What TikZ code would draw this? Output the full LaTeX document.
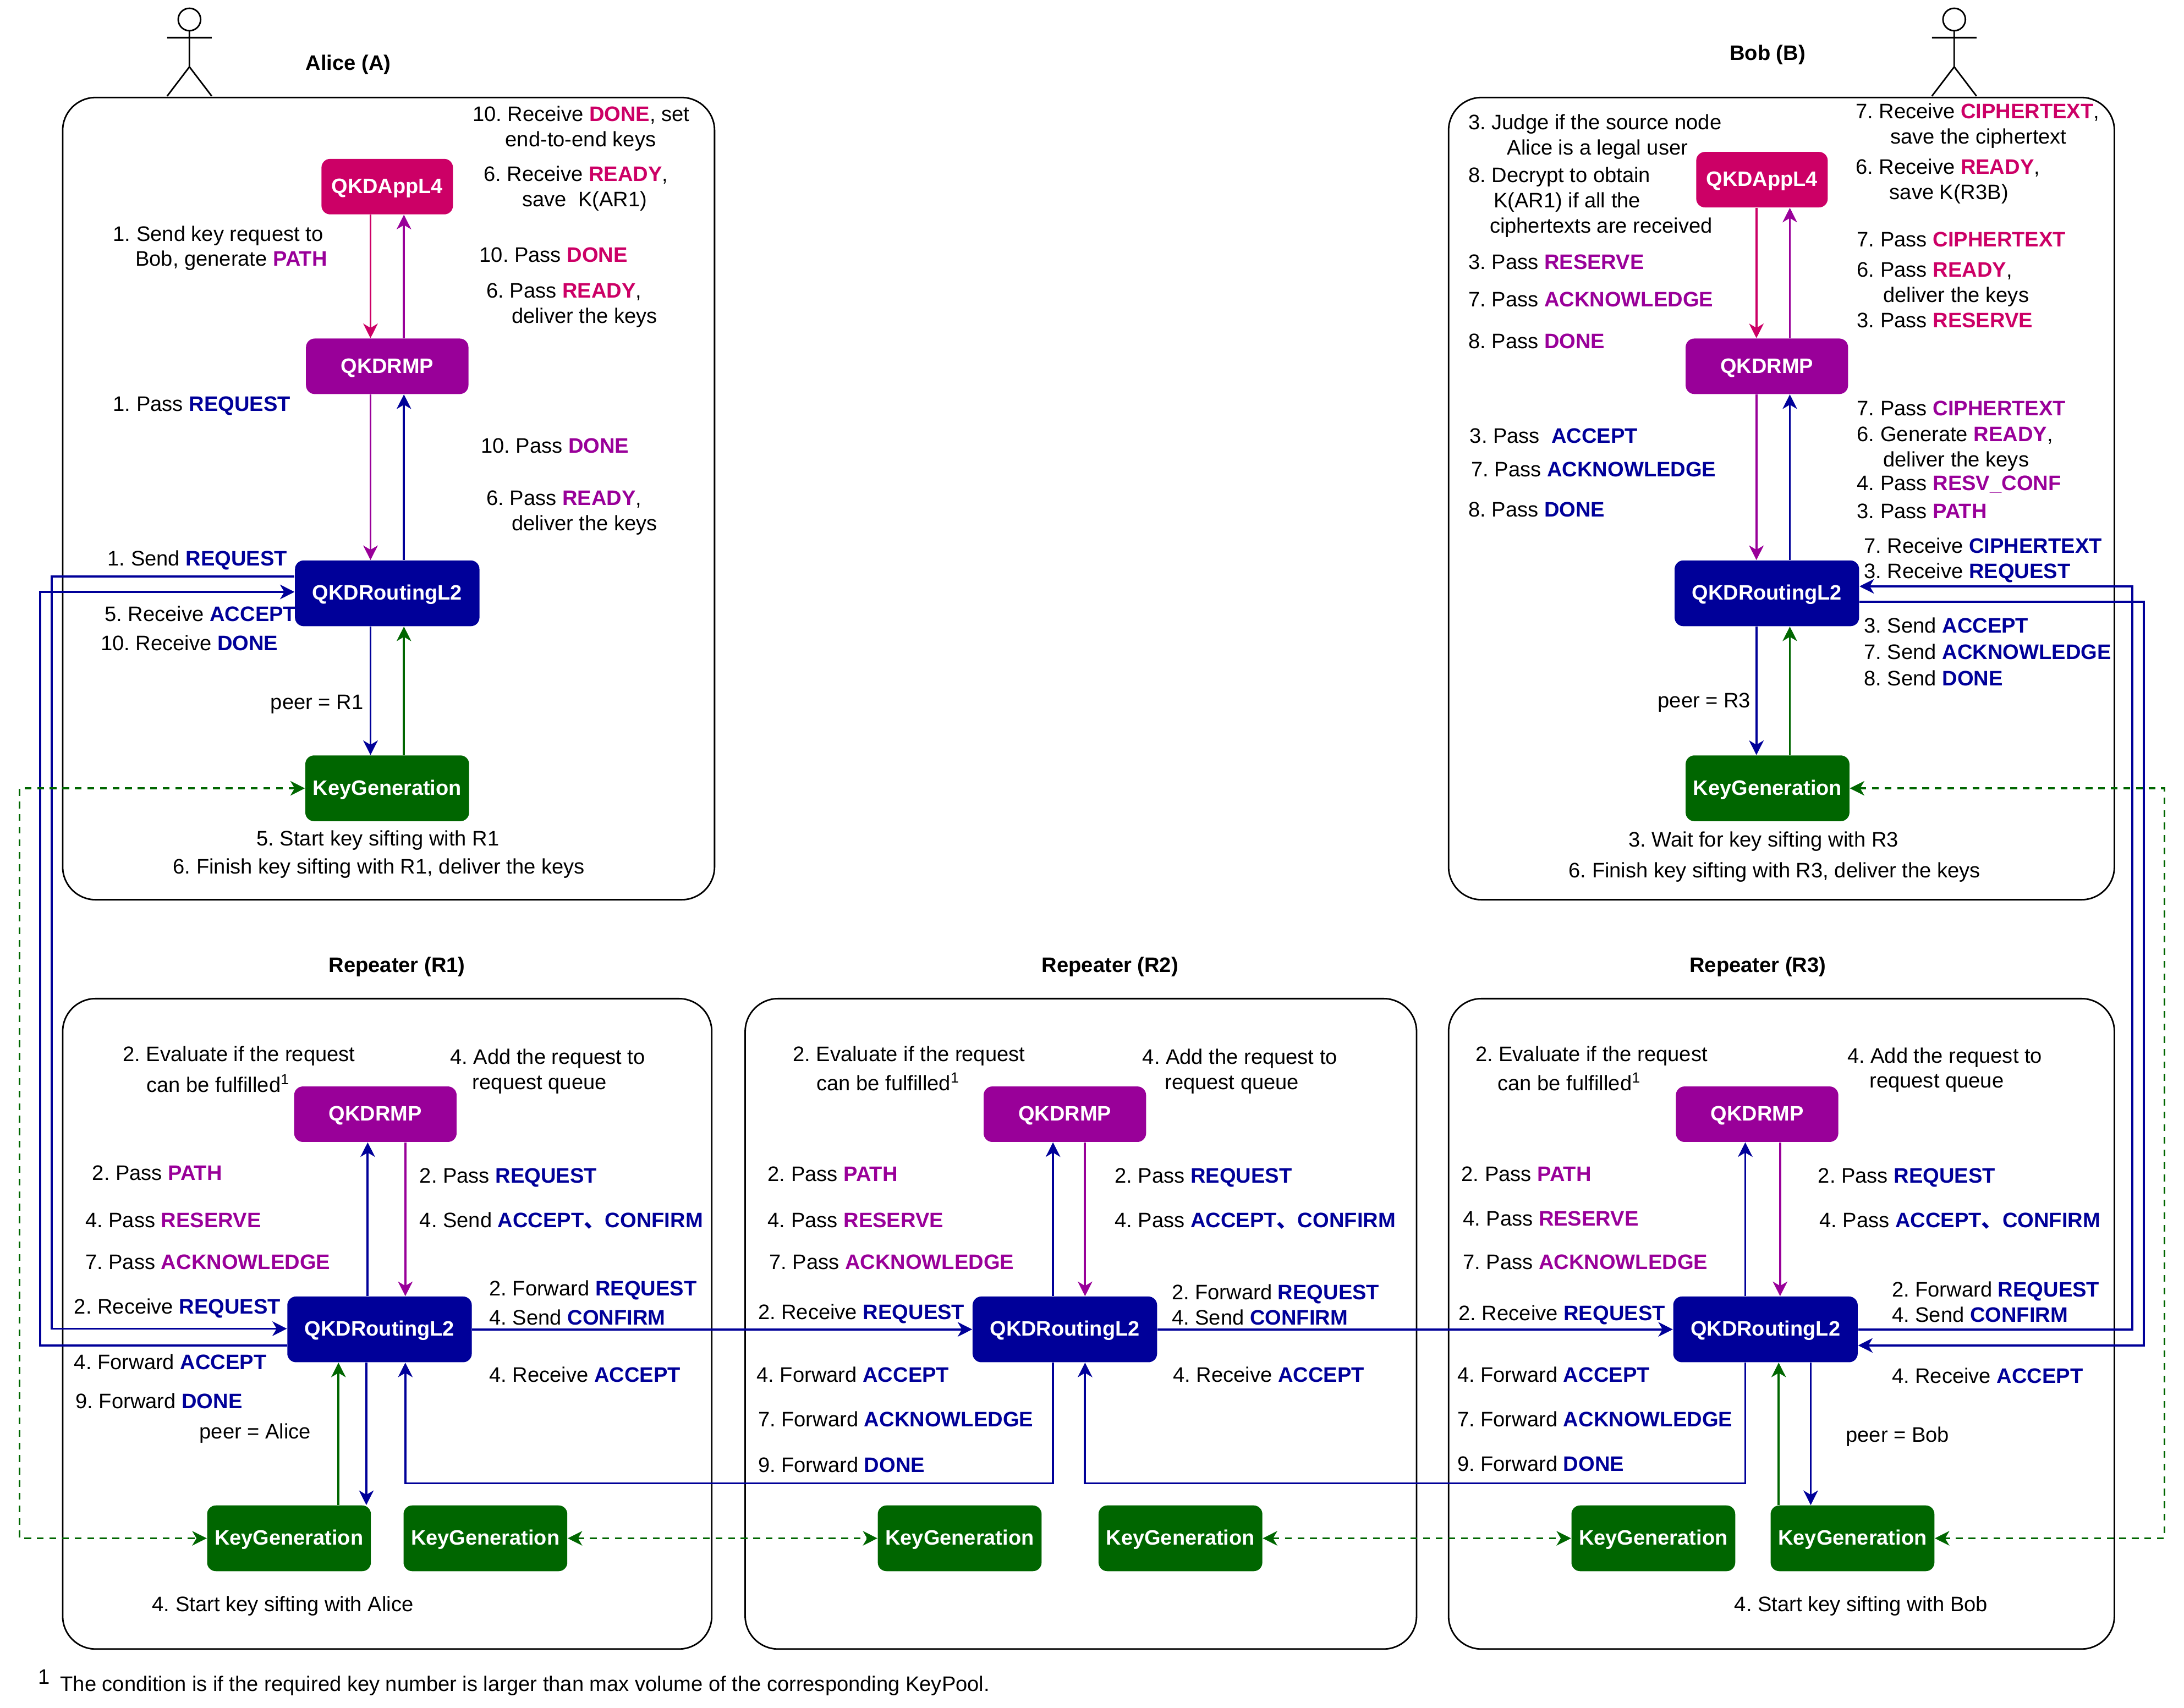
\documentclass[tikz,border=0pt]{standalone}
\usepackage{fontspec}
\setmainfont{Liberation Sans}
\newfontfamily\cjk{Noto Sans CJK SC}
\usetikzlibrary{arrows.meta}
\definecolor{qkdPink}{HTML}{CC0066}
\definecolor{qkdPurple}{HTML}{990099}
\definecolor{qkdBlue}{HTML}{000099}
\definecolor{qkdGreen}{HTML}{006600}
\newcommand{\tPink}[1]{\textcolor{qkdPink}{\textbf{#1}}}
\newcommand{\tPurple}[1]{\textcolor{qkdPurple}{\textbf{#1}}}
\newcommand{\tBlue}[1]{\textcolor{qkdBlue}{\textbf{#1}}}
\newcommand{\cjkComma}{{\cjk\bfseries 、}}
\tikzset{
	zone/.style={draw, line width=0.8pt, rounded corners=17pt},
	actor/.style={draw, line width=0.8pt},
	note/.style={anchor=west, inner sep=0pt, align=left, yshift=-1pt, font=\fontsize{10.85}{13}\selectfont\frenchspacing, execute at begin node={\rule[-2.5pt]{0pt}{10.5pt}}},
	title/.style={inner sep=0pt, yshift=-1pt, font=\bfseries\fontsize{10.85}{13}\selectfont, execute at begin node={\rule[-2.5pt]{0pt}{10.5pt}}},
	block/.style={rounded corners=4.5pt, text=white, inner sep=0pt, font=\bfseries\fontsize{10.8}{13}\selectfont, execute at begin node={\rule{0pt}{9.2pt}}},
	appbox/.style={block, fill=qkdPink, minimum width=68pt, minimum height=28.7pt},
	rmpbox/.style={block, fill=qkdPurple, minimum width=84pt, minimum height=28.7pt},
	routbox/.style={block, fill=qkdBlue, minimum width=95.4pt, minimum height=34pt},
	keybox/.style={block, fill=qkdGreen, minimum width=84.7pt, minimum height=34pt},
	link/.style={line width=1.1pt, -{Stealth[length=7.5pt,width=7.5pt,inset=2.2pt]}},
	keylink/.style={draw=qkdGreen, line width=1pt, dash pattern=on 3.5pt off 3pt, {Stealth[length=7.5pt,width=7.5pt,inset=2.2pt]}-{Stealth[length=7.5pt,width=7.5pt,inset=2.2pt]}}
}
\begin{document}
\begin{tikzpicture}[x=0.02532cm,y=-0.02532cm]
	\useasboundingbox (0,0) rectangle (1568,1226);
%	actors
	\draw[actor] (136,14) circle [radius=5.8pt];
	\draw[actor] (136,22) -- (136,48) (120,27) -- (152,27) (120,69) -- (136,48) -- (152,69);
	\draw[actor] (1403,14) circle [radius=5.8pt];
	\draw[actor] (1403,22) -- (1403,48) (1387,27) -- (1419,27) (1387,69) -- (1403,48) -- (1419,69);
%	zones
	\draw[zone] (45,70) rectangle (513,646);
	\draw[zone] (1040,70) rectangle (1518,646);
	\draw[zone] (45,717) rectangle (511,1184);
	\draw[zone] (535,717) rectangle (1017,1184);
	\draw[zone] (1040,717) rectangle (1518,1184);
	\node[title] (aTitle) at (250,45) {Alice (A)};
	\node[title] (bTitle) at (1269,38) {Bob (B)};
	\node[title] (r1Title) at (285,693) {Repeater (R1)};
	\node[title] (r2Title) at (797,693) {Repeater (R2)};
	\node[title] (r3Title) at (1262,693) {Repeater (R3)};
%	blocks
	\node[appbox] (aApp) at (278,134) {QKDAppL4};
	\node[rmpbox] (aRmp) at (278,263) {QKDRMP};
	\node[routbox] (aRout) at (278,426) {QKDRoutingL2};
	\node[keybox] (aKey) at (278,566) {KeyGeneration};
	\node[appbox] (bApp) at (1265,129) {QKDAppL4};
	\node[rmpbox] (bRmp) at (1268.5,263) {QKDRMP};
	\node[routbox] (bRout) at (1268.5,426) {QKDRoutingL2};
	\node[keybox] (bKey) at (1269,566) {KeyGeneration};
	\node[rmpbox] (r1Rmp) at (269.5,800) {QKDRMP};
	\node[routbox] (r1Rout) at (272.5,954.5) {QKDRoutingL2};
	\node[keybox] (r1KeyA) at (207.5,1104.5) {KeyGeneration};
	\node[keybox] (r1KeyB) at (348.5,1104.5) {KeyGeneration};
	\node[rmpbox] (r2Rmp) at (764.5,800) {QKDRMP};
	\node[routbox] (r2Rout) at (764.5,954.5) {QKDRoutingL2};
	\node[keybox] (r2KeyA) at (689,1104.5) {KeyGeneration};
	\node[keybox] (r2KeyB) at (847.5,1104.5) {KeyGeneration};
	\node[rmpbox] (r3Rmp) at (1261.5,800) {QKDRMP};
	\node[routbox] (r3Rout) at (1267.5,954.5) {QKDRoutingL2};
	\node[keybox] (r3KeyA) at (1187,1104.5) {KeyGeneration};
	\node[keybox] (r3KeyB) at (1330,1104.5) {KeyGeneration};
%	columns and bends of the connectors
	\coordinate (aDown) at (266,0);
	\coordinate (aUp) at (290,0);
	\coordinate (bDown) at (1261,0);
	\coordinate (bUp) at (1285,0);
	\coordinate (aOut) at (37,414);
	\coordinate (r1Back) at (29,966);
	\coordinate (aBack) at (29,425);
	\coordinate (r1In) at (37,954);
	\coordinate (bIn) at (1531,421);
	\coordinate (bOut) at (1539,432);
	\coordinate (r3Back) at (1539,966);
	\coordinate (r2Drop) at (756,1065);
	\coordinate (r1Ret) at (291,1065);
	\coordinate (r3Drop) at (1253,1065);
	\coordinate (r2Ret) at (779,1065);
	\coordinate (aKeyL) at (14,566);
	\coordinate (r1KeyL) at (14,1104.5);
	\coordinate (bKeyR) at (1554,566);
	\coordinate (r3KeyR) at (1554,1104.5);
%	inside Alice
	\draw[link, qkdPink] (aApp.south -| aDown) -- (aRmp.north -| aDown);
	\draw[link, qkdPurple] (aRmp.north -| aUp) -- (aApp.south -| aUp);
	\draw[link, qkdPurple] (aRmp.south -| aDown) -- (aRout.north -| aDown);
	\draw[link, qkdBlue] (aRout.north -| aUp) -- (aRmp.south -| aUp);
	\draw[link, qkdBlue] (aRout.south -| aDown) -- (aKey.north -| aDown);
	\draw[link, qkdGreen] (aKey.north -| aUp) -- (aRout.south -| aUp);
%	inside Bob
	\draw[link, qkdPink] (bApp.south -| bDown) -- (bRmp.north -| bDown);
	\draw[link, qkdPurple] (bRmp.north -| bUp) -- (bApp.south -| bUp);
	\draw[link, qkdPurple] (bRmp.south -| bDown) -- (bRout.north -| bDown);
	\draw[link, qkdBlue] (bRout.north -| bUp) -- (bRmp.south -| bUp);
	\draw[link, qkdBlue] (bRout.south -| bDown) -- (bKey.north -| bDown);
	\draw[link, qkdGreen] (bKey.north -| bUp) -- (bRout.south -| bUp);
%	inside the repeaters
	\draw[link, qkdBlue] (r1Rout.north -| 264,0) -- (r1Rmp.south -| 264,0);
	\draw[link, qkdPurple] (r1Rmp.south -| 291,0) -- (r1Rout.north -| 291,0);
	\draw[link, qkdGreen] (r1KeyA.north -| 243,0) -- (r1Rout.south -| 243,0);
	\draw[link, qkdBlue] (r1Rout.south -| 263,0) -- (r1KeyA.north -| 263,0);
	\draw[link, qkdBlue] (r2Rout.north -| 756,0) -- (r2Rmp.south -| 756,0);
	\draw[link, qkdPurple] (r2Rmp.south -| 779,0) -- (r2Rout.north -| 779,0);
	\draw[link, qkdBlue] (r3Rout.north -| 1253,0) -- (r3Rmp.south -| 1253,0);
	\draw[link, qkdPurple] (r3Rmp.south -| 1278,0) -- (r3Rout.north -| 1278,0);
	\draw[link, qkdGreen] (r3KeyB.north -| 1277,0) -- (r3Rout.south -| 1277,0);
	\draw[link, qkdBlue] (r3Rout.south -| 1300,0) -- (r3KeyB.north -| 1300,0);
%	between the nodes
	\draw[link, qkdBlue] (aRout.west |- aOut) -- (aOut) -- (r1In) -- (r1Rout.west |- r1In);
	\draw[link, qkdBlue] (r1Rout.west |- r1Back) -- (r1Back) -- (aBack) -- (aRout.west |- aBack);
	\draw[link, qkdBlue] (r1Rout.east) -- (r2Rout.west);
	\draw[link, qkdBlue] (r2Rout.east) -- (r3Rout.west);
	\draw[link, qkdBlue] (r3Rout.east) -| (bIn) -- (bRout.east |- bIn);
	\draw[link, qkdBlue] (bRout.east |- bOut) -- (bOut) -- (r3Back) -- (r3Rout.east |- r3Back);
	\draw[link, qkdBlue] (r2Rout.south -| r2Drop) -- (r2Drop) -- (r1Ret) -- (r1Rout.south -| r1Ret);
	\draw[link, qkdBlue] (r3Rout.south -| r3Drop) -- (r3Drop) -- (r2Ret) -- (r2Rout.south -| r2Ret);
	\draw[keylink] (aKey.west) -- (aKeyL) -- (r1KeyL) -- (r1KeyA.west);
	\draw[keylink] (r1KeyB.east) -- (r2KeyA.west);
	\draw[keylink] (r2KeyB.east) -- (r3KeyA.west);
	\draw[keylink] (bKey.east) -- (bKeyR) -- (r3KeyR) -- (r3KeyB.east);
%	notes of Alice
	\node[note] (a1) at (339,91) {10. Receive \tPink{DONE}, set\\\hspace*{17pt}end-to-end keys};
	\node[note] (a2) at (347,134) {6. Receive \tPink{READY},\\\hspace*{20pt}save\ \ K(AR1)};
	\node[note] (a3) at (81,177) {1. Send key request to\\\hspace*{11.5pt}Bob, generate \tPurple{PATH}};
	\node[note] (a4) at (344,183) {10. Pass \tPink{DONE}};
	\node[note] (a5) at (349,218) {6. Pass \tPink{READY},\\\hspace*{13pt}deliver the keys};
	\node[note] (a6) at (81,290) {1. Pass \tBlue{REQUEST}};
	\node[note] (a7) at (345,320) {10. Pass \tPurple{DONE}};
	\node[note] (a8) at (349,367) {6. Pass \tPurple{READY},\\\hspace*{13pt}deliver the keys};
	\node[note] (a9) at (77,401) {1. Send \tBlue{REQUEST}};
	\node[note] (a10) at (75,441) {5. Receive \tBlue{ACCEPT}};
	\node[note] (a11) at (72,462) {10. Receive \tBlue{DONE}};
	\node[note] (a12) at (194,504) {peer = R1};
	\node[note] (a13) at (184,602) {5. Start key sifting with R1};
	\node[note] (a14) at (124,622) {6. Finish key sifting with R1, deliver the keys};
%	notes of Bob
	\node[note] (b1) at (1054,97) {3. Judge if the source node\\\hspace*{20pt}Alice is a legal user};
	\node[note] (b2) at (1054,144) {8. Decrypt to obtain\\\hspace*{13pt}K(AR1) if all the\\\hspace*{11pt}ciphertexts are received};
	\node[note] (b3) at (1054,188) {3. Pass \tPurple{RESERVE}};
	\node[note] (b4) at (1054,215) {7. Pass \tPurple{ACKNOWLEDGE}};
	\node[note] (b5) at (1054,245) {8. Pass \tPurple{DONE}};
	\node[note] (b6) at (1332,89) {7. Receive \tPink{CIPHERTEXT},\\\hspace*{18pt}save the ciphertext};
	\node[note] (b7) at (1332,129) {6. Receive \tPink{READY},\\\hspace*{17.5pt}save K(R3B)};
	\node[note] (b8) at (1333,172) {7. Pass \tPink{CIPHERTEXT}};
	\node[note] (b9) at (1333,203) {6. Pass \tPink{READY},\\\hspace*{13.5pt}deliver the keys};
	\node[note] (b10) at (1333,230) {3. Pass \tPink{RESERVE}};
	\node[note] (b11) at (1055,313) {3. Pass\ \ \tBlue{ACCEPT}};
	\node[note] (b12) at (1056,337) {7. Pass \tBlue{ACKNOWLEDGE}};
	\node[note] (b13) at (1054,366) {8. Pass \tBlue{DONE}};
	\node[note] (b14) at (1333,293) {7. Pass \tPurple{CIPHERTEXT}};
	\node[note] (b15) at (1333,321) {6. Generate \tPurple{READY},\\\hspace*{13.5pt}deliver the keys};
	\node[note] (b16) at (1333,347) {4. Pass \tPurple{RESV\_CONF}};
	\node[note] (b17) at (1333,367) {3. Pass \tPurple{PATH}};
	\node[note] (b18) at (1338,392) {7. Receive \tBlue{CIPHERTEXT}};
	\node[note] (b19) at (1338,410) {3. Receive \tBlue{REQUEST}};
	\node[note] (b20) at (1338,449) {3. Send \tBlue{ACCEPT}};
	\node[note] (b21) at (1338,468) {7. Send \tBlue{ACKNOWLEDGE}};
	\node[note] (b22) at (1338,487) {8. Send \tBlue{DONE}};
	\node[note] (b23) at (1190,503) {peer = R3};
	\node[note] (b24) at (1169,603) {3. Wait for key sifting with R3};
	\node[note] (b25) at (1126,625) {6. Finish key sifting with R3, deliver the keys};
%	notes of R1
	\node[note] (ra1) at (88,757) {2. Evaluate if the request};
	\node[note] (ra2) at (105,778) {can be fulfilled\textsuperscript{1}};
	\node[note] (ra3) at (323,768) {4. Add the request to\\\hspace*{11.5pt}request queue};
	\node[note] (ra4) at (66,842) {2. Pass \tPurple{PATH}};
	\node[note] (ra5) at (61,876) {4. Pass \tPurple{RESERVE}};
	\node[note] (ra6) at (61,906) {7. Pass \tPurple{ACKNOWLEDGE}};
	\node[note] (ra7) at (53,938) {2. Receive \tBlue{REQUEST}};
	\node[note] (ra8) at (53,978) {4. Forward \tBlue{ACCEPT}};
	\node[note] (ra9) at (54,1006) {9. Forward \tBlue{DONE}};
	\node[note] (ra10) at (143,1028) {peer = Alice};
	\node[note] (ra11) at (301,844) {2. Pass \tBlue{REQUEST}};
	\node[note] (ra12) at (301,876) {4. Send \tBlue{ACCEPT\cjkComma CONFIRM}};
	\node[note] (ra13) at (351,925) {2. Forward \tBlue{REQUEST}};
	\node[note] (ra14) at (351,946) {4. Send \tBlue{CONFIRM}};
	\node[note] (ra15) at (351,987) {4. Receive \tBlue{ACCEPT}};
	\node[note] (ra16) at (109,1152) {4. Start key sifting with Alice};
%	notes of R2
	\node[note] (rb1) at (569,757) {2. Evaluate if the request};
	\node[note] (rb2) at (586,777) {can be fulfilled\textsuperscript{1}};
	\node[note] (rb3) at (820,768) {4. Add the request to\\\hspace*{11.5pt}request queue};
	\node[note] (rb4) at (551,843) {2. Pass \tPurple{PATH}};
	\node[note] (rb5) at (551,876) {4. Pass \tPurple{RESERVE}};
	\node[note] (rb6) at (552,906) {7. Pass \tPurple{ACKNOWLEDGE}};
	\node[note] (rb7) at (544,942) {2. Receive \tBlue{REQUEST}};
	\node[note] (rb8) at (543,987) {4. Forward \tBlue{ACCEPT}};
	\node[note] (rb9) at (544,1019) {7. Forward \tBlue{ACKNOWLEDGE}};
	\node[note] (rb10) at (544,1052) {9. Forward \tBlue{DONE}};
	\node[note] (rb11) at (800,844) {2. Pass \tBlue{REQUEST}};
	\node[note] (rb12) at (800,876) {4. Pass \tBlue{ACCEPT\cjkComma CONFIRM}};
	\node[note] (rb13) at (841,928) {2. Forward \tBlue{REQUEST}};
	\node[note] (rb14) at (841,946) {4. Send \tBlue{CONFIRM}};
	\node[note] (rb15) at (842,987) {4. Receive \tBlue{ACCEPT}};
%	notes of R3
	\node[note] (rc1) at (1059,757) {2. Evaluate if the request};
	\node[note] (rc2) at (1075,777) {can be fulfilled\textsuperscript{1}};
	\node[note] (rc3) at (1326,767) {4. Add the request to\\\hspace*{11.5pt}request queue};
	\node[note] (rc4) at (1049,843) {2. Pass \tPurple{PATH}};
	\node[note] (rc5) at (1050,875) {4. Pass \tPurple{RESERVE}};
	\node[note] (rc6) at (1050,906) {7. Pass \tPurple{ACKNOWLEDGE}};
	\node[note] (rc7) at (1047,943) {2. Receive \tBlue{REQUEST}};
	\node[note] (rc8) at (1046,987) {4. Forward \tBlue{ACCEPT}};
	\node[note] (rc9) at (1046,1019) {7. Forward \tBlue{ACKNOWLEDGE}};
	\node[note] (rc10) at (1046,1051) {9. Forward \tBlue{DONE}};
	\node[note] (rc11) at (1305,844) {2. Pass \tBlue{REQUEST}};
	\node[note] (rc12) at (1306,876) {4. Pass \tBlue{ACCEPT\cjkComma CONFIRM}};
	\node[note] (rc13) at (1358,926) {2. Forward \tBlue{REQUEST}};
	\node[note] (rc14) at (1358,944) {4. Send \tBlue{CONFIRM}};
	\node[note] (rc15) at (1358,988) {4. Receive \tBlue{ACCEPT}};
	\node[note] (rc16) at (1325,1030) {peer = Bob};
	\node[note] (rc17) at (1245,1152) {4. Start key sifting with Bob};
%	footnote
	\node[note] (fnMark) at (27,1204) {1};
	\node[note] (fnText) at (43,1209) {The condition is if the required key number is larger than max volume of the corresponding KeyPool.};
\end{tikzpicture}
\end{document}
